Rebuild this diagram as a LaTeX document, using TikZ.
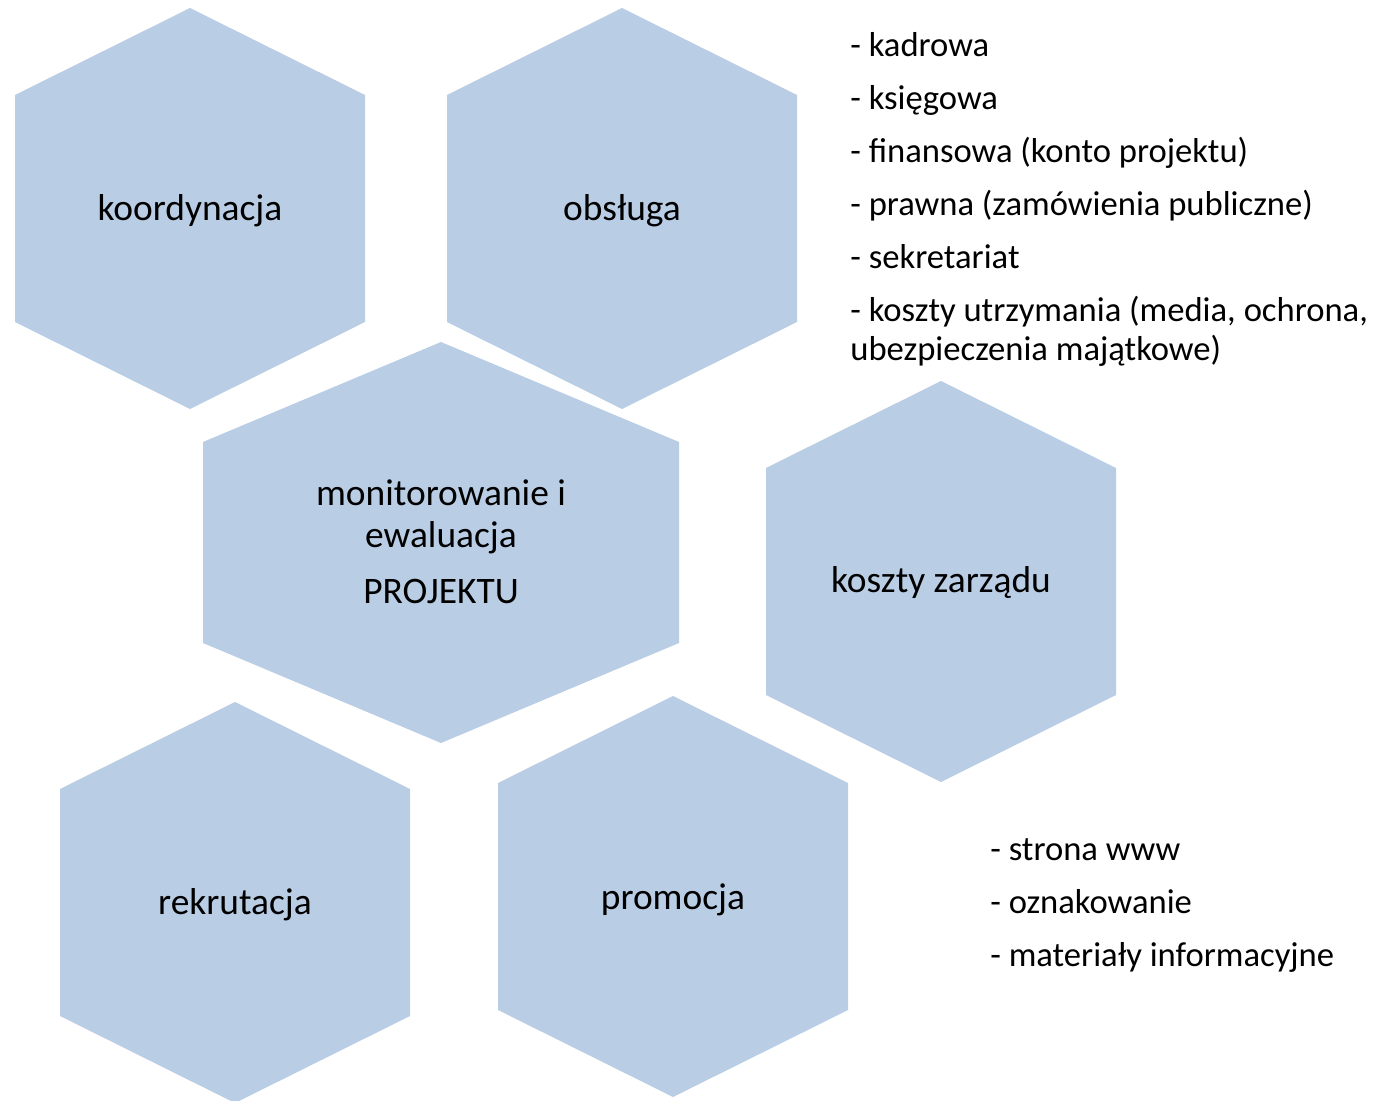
\documentclass[tikz,border=0pt]{standalone}
\usepackage{fontspec}
\setmainfont{Carlito}
\definecolor{hexblue}{RGB}{185,205,229}
\newcommand{\hexfont}{\fontsize{21.3}{24}\selectfont}
\newcommand{\listfont}{\fontsize{19.7}{22.2}\selectfont}
\tikzset{
  hexcell/.style={fill=hexblue, draw=none},
  hexlabel/.style={font=\hexfont, align=center, inner sep=0pt},
  listitem/.style={font=\listfont, align=left, anchor=base west, inner sep=0pt}
}
\begin{document}
\begin{tikzpicture}[x=0.02cm, y=-0.02cm]
    \useasboundingbox (0,0) rectangle (1377,1101);
    % hexagons
    \fill [hexcell] (190,8) -- (365,95) -- (365,322) -- (190,409) -- (15,322) -- (15,95) -- cycle;
    \fill [hexcell] (622,8) -- (797,95) -- (797,322) -- (622,409) -- (447,322) -- (447,95) -- cycle;
    \fill [hexcell] (441,342) -- (679,442) -- (679,643) -- (441,743) -- (203,643) -- (203,442) -- cycle;
    \fill [hexcell] (941,381) -- (1116,468) -- (1116,695) -- (941,782) -- (766,695) -- (766,468) -- cycle;
    \fill [hexcell] (235,702) -- (410,789) -- (410,1016) -- (235,1103) -- (60,1016) -- (60,789) -- cycle;
    \fill [hexcell] (673,696) -- (848,783) -- (848,1010) -- (673,1097) -- (498,1010) -- (498,783) -- cycle;
    % labels
    \node [hexlabel] (koord) at (190,211) {koordynacja};
    \node [hexlabel] (obsl) at (622,211) {obsługa};
    \node [hexlabel] (monit) at (441,542) {monitorowanie i\\ewaluacja\\[8pt]PROJEKTU};
    \node [hexlabel] (zarzad) at (941,583) {koszty zarządu};
    \node [hexlabel] (rekr) at (235,905) {rekrutacja};
    \node [hexlabel] (promo) at (673,900) {promocja};
    % obsluga list
    \node [listitem] (kadr) at (850,57) {- kadrowa};
    \node [listitem] (ksieg) at (850,110) {- księgowa};
    \node [listitem] (finans) at (850,163) {- finansowa (konto projektu)};
    \node [listitem] (prawna) at (850,216) {- prawna (zamówienia publiczne)};
    \node [listitem] (sekr) at (850,269) {- sekretariat};
    \node [listitem] (utrzym) at (850,361) {- koszty utrzymania (media, ochrona,\\ubezpieczenia majątkowe)};
    % promocja list
    \node [listitem] (www) at (990,860) {- strona www};
    \node [listitem] (oznak) at (990,913) {- oznakowanie};
    \node [listitem] (mater) at (990,966) {- materiały informacyjne};
  \end{tikzpicture}
\end{document}
